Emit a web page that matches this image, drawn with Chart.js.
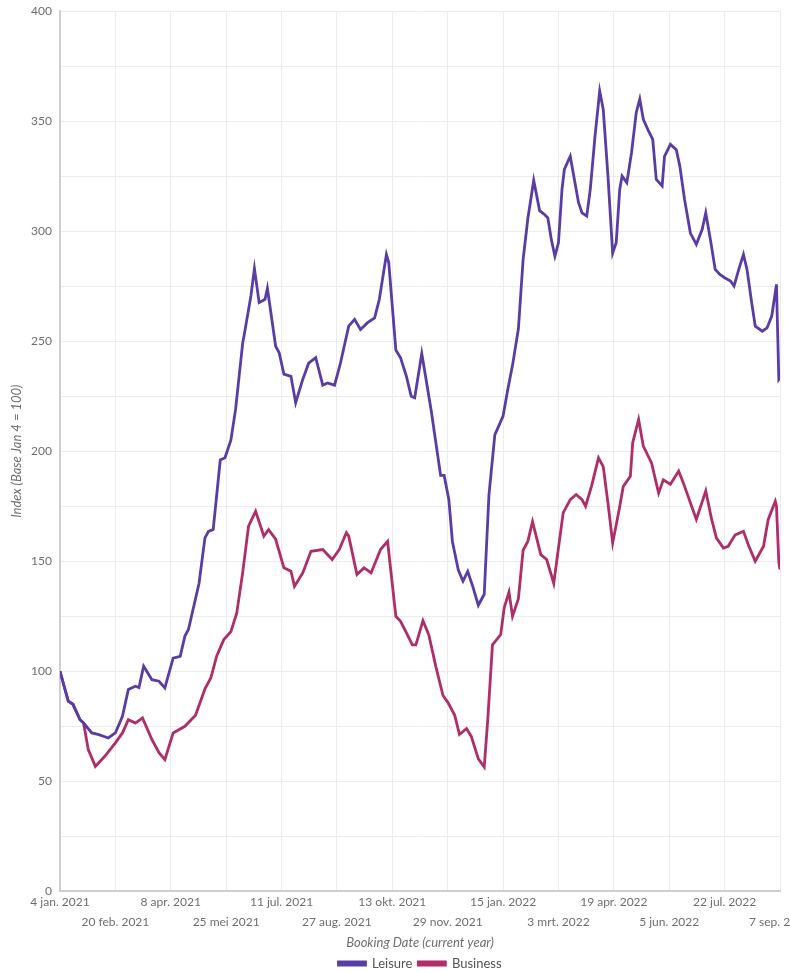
<!DOCTYPE html>
<html>
<head>
<meta charset="utf-8">
<script src="https://cdn.jsdelivr.net/npm/chart.js@4/dist/chart.umd.min.js"></script>
<style>
  html, body { margin: 0; padding: 0; background: #fff; overflow: hidden; }
</style>
</head>
<body>
<canvas id="myChart" width="790" height="972"></canvas>
<script>
// x = days since 4 jan. 2021 (every few days, plus turning points)
const tickLabels = [
    '4 jan. 2021', '20 feb. 2021', '8 apr. 2021', '25 mei 2021', '11 jul. 2021',
    '27 aug. 2021', '13 okt. 2021', '29 nov. 2021', '15 jan. 2022', '3 mrt. 2022',
    '19 apr. 2022', '5 jun. 2022', '22 jul. 2022', '7 sep. 2022'
];

const leisureDays = [
    0, 7, 11, 17, 20, 27, 33, 41, 47, 53, 58, 64, 67, 71, 78, 84, 89, 96, 102, 106,
    109, 118, 123, 126, 130, 136, 140, 145, 149, 155, 157, 162, 165, 169, 174, 176, 183, 186, 190, 196,
    200, 206, 211, 217, 223, 227, 233, 238, 245, 250, 255, 261, 267, 271, 277, 279, 285, 289, 294, 298,
    301, 307, 315, 323, 326, 330, 333, 338, 342, 346, 350, 355, 360, 364, 369, 376, 380, 384, 389, 393,
    397, 402, 407, 411, 414, 417, 420, 423, 426, 428, 433, 435, 440, 443, 447, 450, 454, 458, 461, 465,
    469, 472, 475, 477, 481, 485, 489, 492, 495, 499, 503, 506, 511, 513, 518, 523, 526, 530, 535, 537,
    540, 545, 548, 552, 556, 560, 564, 569, 572, 576, 580, 583, 587, 590, 596, 600, 604, 608, 610, 611
];
const leisureIndex = [
    100, 86.4, 85, 78, 76.5, 72, 71.2, 69.7, 72, 79.5, 91.7, 93.2, 92.6, 102.3, 96.2, 95.5, 92.5, 106, 106.8, 116,
    119, 140, 160.6, 163.6, 164.4, 196, 197, 205, 219, 249, 255, 270.5, 283, 267.5, 269, 274, 247.7, 244.7, 235, 234,
    222, 232.6, 240, 242.5, 230, 231, 230, 240, 256.8, 259.9, 255.3, 258.4, 260.6, 269, 289.4, 285.6, 246, 242.4, 234, 225,
    224.3, 244.4, 218.5, 189, 189, 178, 159, 146, 141, 145.4, 139, 130, 135, 180, 207.4, 216, 228, 239, 255.6, 287,
    305.6, 323, 309.3, 307.6, 306, 296, 288.6, 294.7, 319, 328, 334, 328, 313, 308.3, 306.8, 319, 343, 363.6, 355.3, 325,
    290, 294.7, 319, 325, 322, 335.6, 353.8, 360, 350.8, 346, 341.7, 323.5, 320.5, 334, 339.4, 337, 329.5, 314.4, 299, 297,
    294, 300.8, 308.3, 296, 282.6, 280.3, 278.8, 277.3, 275, 282.6, 289.4, 282.6, 267.4, 256.8, 254.5, 256, 261.4, 275.8, 232.6, 233.3
];

const businessDays = [
    0, 7, 11, 17, 20, 24, 30, 38, 47, 53, 58, 64, 70, 78, 84, 89, 96, 106, 115, 123,
    128, 133, 139, 145, 150, 155, 160, 166, 173, 177, 183, 190, 196, 199, 206, 213, 223, 231, 237, 243,
    245, 252, 258, 264, 272, 278, 285, 289, 294, 299, 302, 308, 313, 319, 325, 329, 335, 339, 345, 349,
    355, 360, 363, 367, 374, 377, 381, 384, 389, 393, 397, 401, 408, 413, 419, 427, 433, 438, 443, 446,
    451, 457, 461, 465, 469, 474, 478, 484, 486, 491, 495, 502, 508, 512, 518, 525, 529, 536, 540, 548,
    553, 557, 563, 567, 573, 580, 584, 590, 597, 601, 607, 608, 610, 611
];
const businessIndex = [
    100, 86.4, 85, 78, 76.5, 64.4, 56.8, 61.4, 67.5, 72, 78, 76.5, 78.8, 69, 63, 59.9, 72, 75, 80, 92,
    97, 107, 114.4, 118, 126.5, 144.7, 166, 172.7, 161.4, 164.4, 160, 147, 145.5, 138.6, 144.7, 154.5, 155.3, 150.8, 155.3, 163,
    161.4, 144, 147, 144.7, 155.3, 159, 125, 122.7, 117.5, 112, 112, 123, 116.5, 102, 89, 86, 80, 71.3, 74, 70.4,
    60.2, 56.5, 78, 112, 116.7, 129, 136, 125, 133, 155, 159, 168, 153, 150.8, 140, 172, 178, 180.3, 178, 175,
    184, 197, 193, 176.5, 158.3, 172, 184, 188.6, 203.8, 214.4, 202.3, 194.7, 181, 187, 185, 191, 185.6, 175, 169, 182,
    169, 160.6, 156, 156.8, 162, 163.6, 157.6, 150, 156.8, 169, 177.3, 175, 149.5, 146.2
];

const tickStep = 47;
const greyText = '#6f6f6f';

const data = {
    datasets: [{
        label: 'Leisure',
        data: leisureDays.map((d, i) => ({x: d, y: leisureIndex[i]})),
        borderColor: '#5a3ca6',
        backgroundColor: '#5a3ca6',
        borderWidth: 2.8,
        pointRadius: 0,
        tension: 0
    }, {
        label: 'Business',
        data: businessDays.map((d, i) => ({x: d, y: businessIndex[i]})),
        borderColor: '#b02d69',
        backgroundColor: '#b02d69',
        borderWidth: 2.8,
        pointRadius: 0,
        tension: 0
    }]
};

const config = {
    type: 'line',
    data: data,
    options: {
        responsive: false,
        animation: false,
        layout: { padding: { top: 11, right: 10, bottom: -8, left: 0 } },
        plugins: {
            tooltip: { enabled: false },
            legend: {
                position: 'bottom',
                fullSize: false,
                labels: {
                    boxWidth: 27,
                    boxHeight: 3,
                    padding: 6,
                    color: '#555',
                    font: { family: 'Lato', size: 13 }
                }
            }
        },
        scales: {
            x: {
                type: 'linear',
                min: 0,
                max: 611,
                grid: { color: '#ececec', drawTicks: false },
                border: { color: '#cfcfcf', width: 2 },
                ticks: {
                    stepSize: tickStep,
                    autoSkip: false,
                    maxRotation: 0,
                    padding: 1,
                    color: greyText,
                    font: { family: 'Lato', size: 12, lineHeight: '20px' },
                    callback: (value) => {
                        const i = Math.round(value / tickStep);
                        const label = tickLabels[i];
                        return i % 2 === 0 ? [label, ''] : ['', label];
                    }
                },
                title: {
                    display: true,
                    text: 'Booking Date (current year)',
                    color: greyText,
                    padding: { top: 2, bottom: 0 },
                    font: { family: 'Lato', size: 13, style: 'italic' }
                },
                afterFit: (scale) => { scale.paddingRight = 0; }
            },
            y: {
                min: 0,
                max: 400,
                grid: { color: '#ececec', drawTicks: false },
                border: { color: '#cfcfcf', width: 2 },
                ticks: {
                    stepSize: 25,
                    padding: 8,
                    color: greyText,
                    font: { family: 'Lato', size: 12 },
                    callback: (value) => value % 50 === 0 ? value : ''
                },
                title: {
                    display: true,
                    text: 'Index (Base Jan 4 = 100)',
                    color: greyText,
                    padding: { top: 9, bottom: 0 },
                    font: { family: 'Lato', size: 13, style: 'italic' }
                },
                afterFit: (scale) => {
                    scale.width = 60;
                    scale.paddingTop = 0;
                    scale.paddingBottom = 0;
                }
            }
        }
    }
};

const myChart = new Chart(
    document.getElementById('myChart'),
    config
);
</script>
</body>
</html>
